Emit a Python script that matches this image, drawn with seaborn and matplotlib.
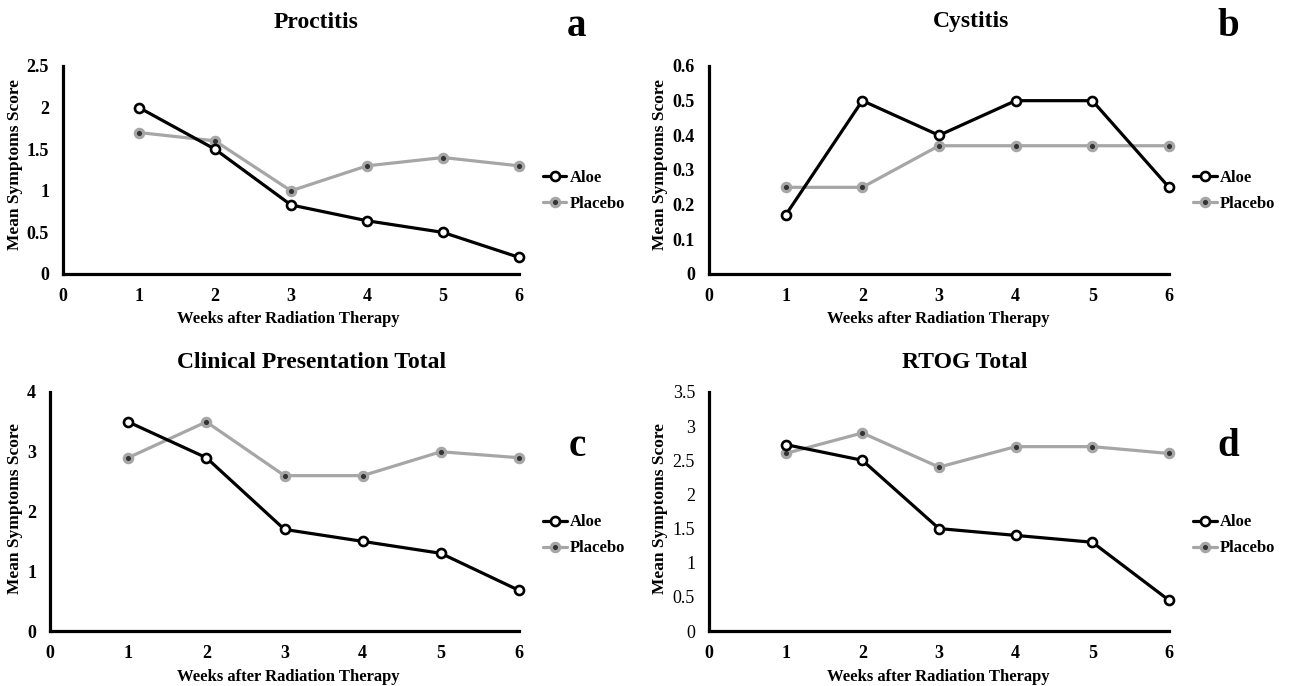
import matplotlib
matplotlib.use('Agg')

import matplotlib.pyplot as plt
import seaborn as sns

# -------------------------------
# DATA
# -------------------------------

weeks = [1, 2, 3, 4, 5, 6]

proctitis_aloe = [2.0, 1.5, 0.83, 0.64, 0.5, 0.2]
proctitis_placebo = [1.7, 1.6, 1.0, 1.3, 1.4, 1.3]

cystitis_aloe = [0.17, 0.5, 0.4, 0.5, 0.5, 0.25]
cystitis_placebo = [0.25, 0.25, 0.37, 0.37, 0.37, 0.37]

clinical_aloe = [3.5, 2.9, 1.7, 1.5, 1.3, 0.68]
clinical_placebo = [2.9, 3.5, 2.6, 2.6, 3.0, 2.9]

rtog_aloe = [2.73, 2.5, 1.5, 1.4, 1.3, 0.45]
rtog_placebo = [2.6, 2.9, 2.4, 2.7, 2.7, 2.6]

titles = ["Proctitis", "Cystitis", "Clinical Presentation Total", "RTOG Total"]
letters = ["a", "b", "c", "d"]
y_ticks = [
    [0, 0.5, 1, 1.5, 2, 2.5],
    [0, 0.1, 0.2, 0.3, 0.4, 0.5, 0.6],
    [0, 1, 2, 3, 4],
    [0, 0.5, 1, 1.5, 2, 2.5, 3, 3.5],
]
y_tick_labels = [
    ["0", "0.5", "1", "1.5", "2", "2.5"],
    ["0", "0.1", "0.2", "0.3", "0.4", "0.5", "0.6"],
    ["0", "1", "2", "3", "4"],
    ["0", "0.5", "1", "1.5", "2", "2.5", "3", "3.5"],
]

series = [
    (proctitis_aloe, proctitis_placebo),
    (cystitis_aloe, cystitis_placebo),
    (clinical_aloe, clinical_placebo),
    (rtog_aloe, rtog_placebo),
]

# -------------------------------
# STYLE
# -------------------------------

sns.set_theme(style="white")
plt.rcParams['font.family'] = ['Liberation Serif', 'DejaVu Serif']
plt.rcParams['font.weight'] = 'bold'
plt.rcParams['text.color'] = 'black'
plt.rcParams['xtick.color'] = 'black'
plt.rcParams['ytick.color'] = 'black'

W, H = 1293, 686

fig = plt.figure(figsize=(W / 100, H / 100), dpi=100)

# axes boxes in pixels: left, right, top, bottom
boxes = [
    (63, 519, 66, 274),
    (709, 1169, 66, 274),
    (50, 519, 392, 631),
    (709, 1169, 392, 631),
]

title_pos = [(316, 22), (971, 22), (312, 362), (965, 362)]
letter_pos = [(577, 27), (1228, 27), (577, 447), (1228, 447)]
xlabel_pos = [(288, 319), (938, 319), (288, 677), (938, 677)]
ylabel_pos = [(15, 165), (660, 165), (15, 508), (660, 508)]

gray = '#a6a6a6'

for i in range(4):
    l, r, t, b = boxes[i]
    ax = fig.add_axes([l / W, 1 - b / H, (r - l) / W, (b - t) / H])

    aloe, placebo = series[i]

    sns.lineplot(
        x=weeks,
        y=aloe,
        ax=ax,
        color='black',
        linewidth=2.3,
        marker='o',
        markersize=6.5,
        markerfacecolor='white',
        markeredgecolor='black',
        markeredgewidth=1.9,
        label='Aloe',
        clip_on=False,
        zorder=4
    )

    sns.lineplot(
        x=weeks,
        y=placebo,
        ax=ax,
        color=gray,
        linewidth=2.3,
        marker='o',
        markersize=6,
        markerfacecolor='#333333',
        markeredgecolor=gray,
        markeredgewidth=2.3,
        label='Placebo',
        clip_on=False,
        zorder=3
    )

    ax.set_xlim(0, 6)
    ax.set_ylim(y_ticks[i][0], y_ticks[i][-1])
    ax.set_xticks(range(0, 7))
    ax.set_yticks(y_ticks[i])
    ax.set_yticklabels(y_tick_labels[i])

    ytick_weight = 'normal' if i == 3 else 'bold'
    for lab in ax.get_xticklabels():
        lab.set_fontsize(13)
        lab.set_fontweight('bold')
    for lab in ax.get_yticklabels():
        lab.set_fontsize(13)
        lab.set_fontweight(ytick_weight)

    ax.tick_params(axis='x', length=0, pad=10)
    ax.tick_params(axis='y', length=0, pad=10)

    sns.despine(ax=ax)
    for side in ['left', 'bottom']:
        ax.spines[side].set_color('black')
        ax.spines[side].set_linewidth(2.3)

    ax.set_xlabel("")
    ax.set_ylabel("")

    handles, labels = ax.get_legend_handles_labels()
    ax.legend(
        handles,
        labels,
        loc='center left',
        bbox_to_anchor=(1.02, 0.40),
        frameon=False,
        handlelength=1.4,
        handletextpad=0.2,
        labelspacing=0.6,
        prop={'family': 'Liberation Serif', 'weight': 'bold', 'size': 12}
    )

    tx, ty = title_pos[i]
    fig.text(tx / W, 1 - ty / H, titles[i], ha='center', va='center',
             fontsize=17, fontweight='bold')

    lx, ly = letter_pos[i]
    fig.text(lx / W, 1 - ly / H, letters[i], ha='center', va='center',
             fontsize=28, fontweight='bold')

    xx, xy = xlabel_pos[i]
    fig.text(xx / W, 1 - xy / H, "Weeks after Radiation Therapy",
             ha='center', va='center', fontsize=12, fontweight='bold')

    yx, yy = ylabel_pos[i]
    fig.text(yx / W, 1 - yy / H, "Mean Symptoms Score", rotation=90,
             ha='center', va='center', fontsize=12.5, fontweight='bold')

plt.savefig("out.png", dpi=100)
